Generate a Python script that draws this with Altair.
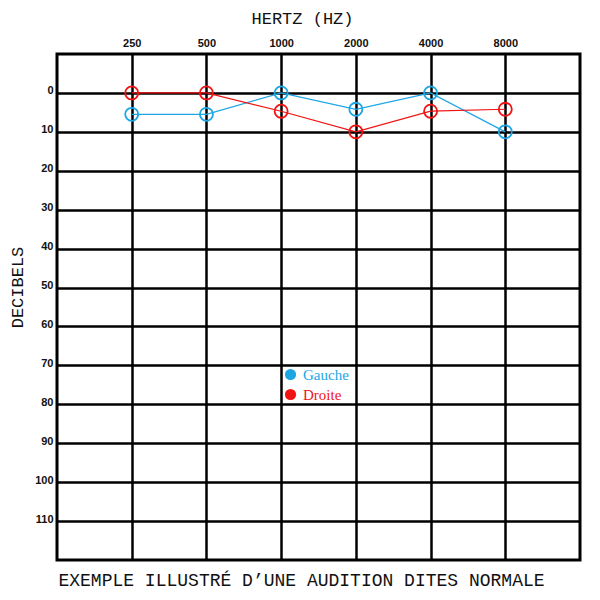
import altair as alt
import pandas as pd

frequencies = ["250", "500", "1000", "2000", "4000", "8000"]
gauche = [5.5, 5.5, 0, 4.2, 0, 10]
droite = [0, 0, 4.7, 10, 4.7, 4.2]
series_names = ["Gauche", "Droite"]
series_colors = ["#1ca6e4", "#f21313"]
db_ticks = [0, 10, 20, 30, 40, 50, 60, 70, 80, 90, 100, 110]

rows = []
for f, g, d in zip(frequencies, gauche, droite):
    rows.append({"freq": f, "db": g, "oreille": "Gauche"})
    rows.append({"freq": f, "db": d, "oreille": "Droite"})
df = pd.DataFrame(rows)

x = alt.X(
    "freq:N",
    sort=frequencies,
    scale=alt.Scale(type="point", padding=1),
    axis=alt.Axis(
        orient="top",
        title="HERTZ (HZ)",
        titleFont="Liberation Mono",
        titleFontSize=17,
        titleFontWeight="normal",
        titleColor="#111",
        titleX=245,
        titleY=-36,
        titleAnchor="middle",
        titleAlign="center",
        titleBaseline="middle",
        labelFont="Liberation Sans",
        labelFontWeight="bold",
        labelFontSize=11,
        labelColor="#111",
        labelPadding=6,
        labelAngle=0,
        ticks=False,
        domain=False,
        grid=True,
        gridColor="black",
        gridWidth=2.5,
        gridOpacity=1,
    ),
)

y = alt.Y(
    "db:Q",
    scale=alt.Scale(domain=[-10, 120], reverse=True, nice=False, zero=False),
    axis=alt.Axis(
        values=db_ticks,
        title="DECIBELS",
        titleFont="Liberation Mono",
        titleFontSize=17,
        titleFontWeight="normal",
        titleColor="#111",
        titleX=-40,
        titleY=233,
        titleAngle=270,
        titleAlign="center",
        titleBaseline="middle",
        labelFont="Liberation Sans",
        labelFontWeight="bold",
        labelFontSize=11,
        labelColor="#111",
        labelPadding=4,
        labelOffset=-2,
        ticks=False,
        domain=False,
        grid=True,
        gridColor="black",
        gridWidth=2.5,
        gridOpacity=1,
    ),
)

color_scale = alt.Scale(domain=series_names, range=series_colors)
stroke_color = alt.Color("oreille:N", scale=color_scale, legend=None)

legend_dots = alt.Chart(df).mark_point(
    shape="circle", filled=True, size=0, opacity=1
).encode(
    x=x,
    y=y,
    fill=alt.Fill(
        "oreille:N",
        scale=color_scale,
        legend=alt.Legend(
            title=None,
            orient="none",
            legendX=226,
            legendY=313,
            padding=0,
            symbolType="circle",
            symbolOpacity=1,
            symbolStrokeWidth=0,
            symbolStrokeColor="transparent",
            symbolSize=125,
            labelFont="Liberation Serif",
            labelFontSize=15,
            labelColor=alt.ExprRef("datum.label == 'Gauche' ? '#1ca6e4' : '#f21313'"),
            labelOffset=5,
            rowPadding=4,
        ),
    ),
)

lines = alt.Chart(df).mark_line(strokeWidth=1.2).encode(
    x=x, y=y, color=stroke_color, detail="oreille:N"
)
points = alt.Chart(df).mark_point(
    shape="circle", filled=False, size=170, strokeWidth=1.8, opacity=1
).encode(x=x, y=y, color=stroke_color)

chart = alt.layer(legend_dots, lines, points).properties(
    width=523,
    height=506,
    background="white",
    autosize=alt.AutoSizeParams(type="none"),
    padding={"left": 49, "top": 46, "right": 12, "bottom": 40},
    title=alt.Title(
        "EXEMPLE ILLUSTRÉ D’UNE AUDITION DITES NORMALE",
        orient="bottom",
        anchor="middle",
        dx=-17,
        offset=12,
        font="Liberation Mono",
        fontSize=18,
        fontWeight="normal",
        color="#111",
    ),
).configure_view(stroke="black", strokeWidth=3)

chart.save("out.html", embed_options={"renderer": "svg", "actions": False})
